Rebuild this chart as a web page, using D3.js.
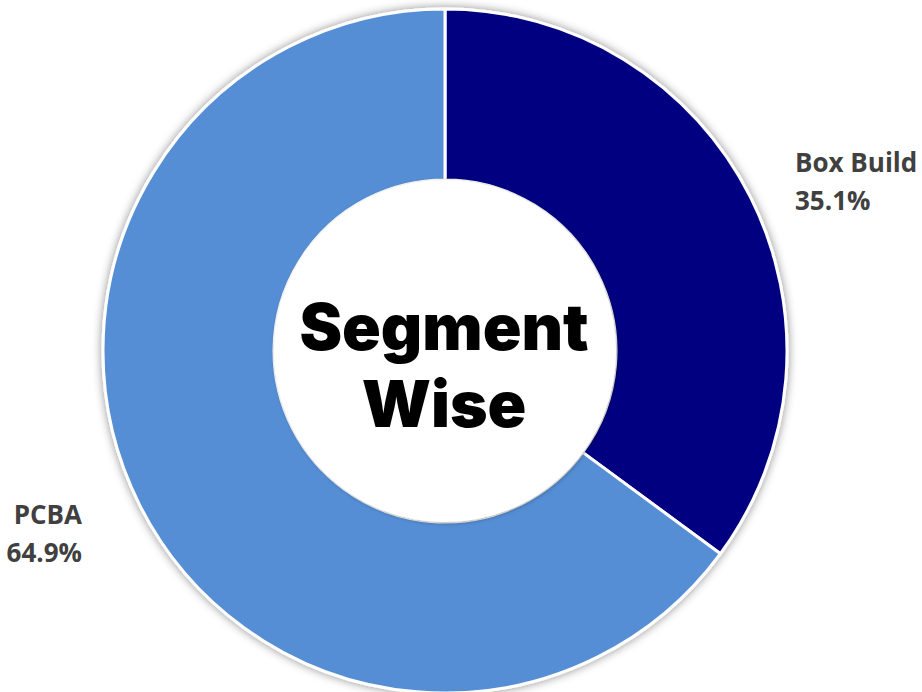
<!DOCTYPE html>
<html><head><meta charset="utf-8">
<script src="https://cdn.jsdelivr.net/npm/d3@7"></script>
<style>html,body{margin:0;padding:0;background:#fff;overflow:hidden}</style>
</head><body><svg id="c" width="922" height="692"></svg>
<script>
const categories = ["Box Build", "PCBA"];
const values = [35.1, 64.9];
const colors = ["#000080", "#558ed5"];
const centerLines = ["Segment", "Wise"];

const svg = d3.select("#c");
const cx = 445, cy = 351, R = 342, r = 171;
const defs = svg.append("defs");
const f = defs.append("filter").attr("id","sh").attr("x","-20%").attr("y","-20%").attr("width","140%").attr("height","140%");
f.append("feDropShadow").attr("dx",0).attr("dy",0).attr("stdDeviation",5).attr("flood-color","#000").attr("flood-opacity",0.45);
const f2 = defs.append("filter").attr("id","sh2").attr("x","-20%").attr("y","-20%").attr("width","140%").attr("height","140%");
f2.append("feDropShadow").attr("dx",1).attr("dy",1).attr("stdDeviation",2).attr("flood-color","#000").attr("flood-opacity",0.35);

const g = svg.append("g").attr("transform",`translate(${cx},${cy})`);
const pie = d3.pie().sort(null).value(d=>d)(values);
const arc = d3.arc().innerRadius(r).outerRadius(R);

g.append("g").attr("filter","url(#sh)")
 .selectAll("path").data(pie).join("path")
 .attr("d", arc).attr("fill",(d,i)=>colors[i])
 .attr("stroke","#fff").attr("stroke-width",3).attr("stroke-linejoin","round");

g.append("circle").attr("r", r-1).attr("fill","#fff").attr("stroke","#fff").attr("stroke-width",2).attr("filter","url(#sh2)");

g.append("text").attr("text-anchor","middle").attr("font-family","Inter").attr("font-weight",900)
 .attr("font-size",64).attr("fill","#000")
 .selectAll("tspan").data(centerLines).join("tspan")
 .attr("x",-1).attr("y",(d,i)=> i===0 ? -1 : 76).text(d=>d);

// labels
const labelPos = [{x:795-cx, y:172-cy, anchor:"start"}, {x:82-cx, y:524-cy, anchor:"end"}];
const lab = g.selectAll("text.lab").data(pie).join("text").attr("class","lab")
 .attr("font-family","Open Sans").attr("font-weight",700).attr("font-size",26).attr("fill","#404040")
 .attr("text-anchor",(d,i)=>labelPos[i].anchor);
lab.append("tspan").attr("x",(d,i)=>labelPos[i].x).attr("y",(d,i)=>labelPos[i].y).text((d,i)=>categories[i]);
lab.append("tspan").attr("x",(d,i)=>labelPos[i].x).attr("y",(d,i)=>labelPos[i].y+38).text((d,i)=>d3.format(".1f")(values[i])+"%");
</script></body></html>
